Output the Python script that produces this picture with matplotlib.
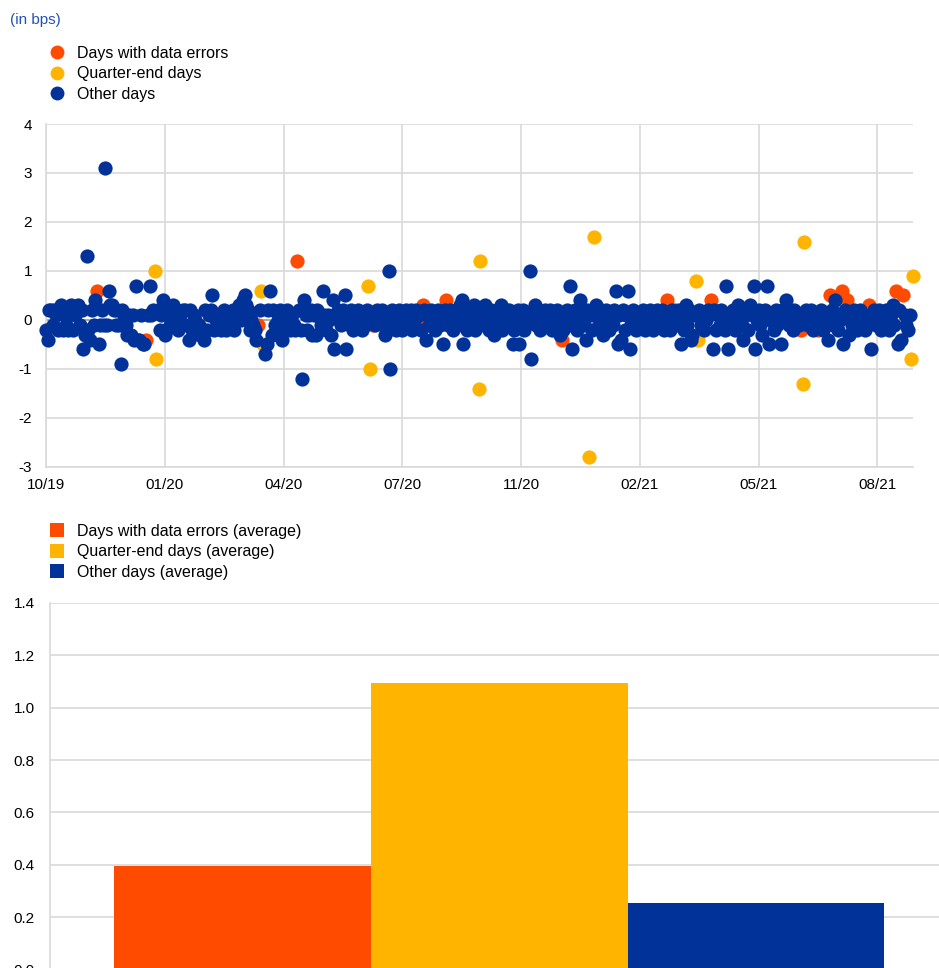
import numpy as np
import matplotlib
matplotlib.use("Agg")
import matplotlib.pyplot as plt
from matplotlib.lines import Line2D

plt.rcParams["font.family"] = ["Liberation Sans", "DejaVu Sans"]

RED = "#FF4B00"
YELLOW = "#FFB400"
BLUE = "#003299"
GRID = "#d9d9d9"

nan = np.nan

# business-day index since 1 Oct 2019, tick label every 70 days
tick_idx = [0, 70, 140, 210, 280, 350, 420, 490]
tick_labels = ["10/19", "01/20", "04/20", "07/20", "11/20", "02/21", "05/21", "08/21"]

error_idx = [30, 59, 125, 148, 193, 196, 219, 222, 236, 304, 366, 371, 392,
             445, 455, 462, 469, 472, 485, 501, 505]
error_vals = [0.6, -0.4, -0.1, 1.2, -0.1, 0.1, -0.1, 0.3, 0.4, -0.4, 0.4, 0.2, 0.4,
              -0.2, -0.2, 0.5, 0.6, 0.4, 0.3, 0.6, 0.5]

qend_idx = [64, 65, 127, 128, 190, 191, 255, 256, 320, 323, 383, 384, 446, 447, 510, 511]
qend_vals = [1.0, -0.8, 0.6, -0.5, 0.7, -1.0, -1.4, 1.2, -2.8, 1.7, 0.8, -0.4,
             -1.3, 1.6, -0.8, 0.9]

# other days, one value per business day (nan = special day)
other_vals = [
    -0.2, -0.4, 0.2, 0.2, -0.1, 0.2, 0.1, -0.2, 0.2, 0.3, -0.2, 0.1, -0.1, -0.2, 0.2, 0.3,
    -0.2, 0.1, 0.2, 0.3, -0.1, 0.2, -0.6, -0.3, 1.3, -0.2, -0.4, 0.2, -0.1, 0.4, nan, -0.5,
    -0.1, 0.2, -0.1, 3.1, -0.1, 0.6, 0.3, 0.3, 0.2, -0.1, 0.2, -0.1, -0.9, 0.2, 0.1, -0.1,
    -0.3, 0.1, -0.3, 0.1, -0.4, 0.7, -0.4, -0.4, 0.1, -0.5, -0.5, nan, 0.1, 0.7, 0.1, 0.2,
    nan, nan, 0.2, -0.2, 0.1, 0.4, -0.3, -0.2, 0.2, -0.1, 0.0, 0.3, -0.1, 0.2, -0.2, 0.1,
    -0.1, 0.2, 0.2, -0.1, -0.4, 0.2, -0.2, 0.1, 0.0, -0.2, -0.1, -0.3, -0.2, -0.4, 0.2, -0.2,
    0.1, 0.2, 0.5, -0.2, 0.0, 0.1, -0.1, -0.2, 0.1, 0.2, -0.2, 0.1, 0.0, -0.1, 0.2, -0.2,
    0.1, 0.2, 0.3, 0.0, 0.4, 0.5, 0.3, 0.2, -0.2, 0.0, -0.1, -0.2, -0.4, nan, 0.2, nan,
    nan, -0.7, -0.5, 0.2, 0.6, -0.3, 0.2, -0.1, -0.2, 0.0, 0.2, -0.4, 0.1, -0.2, 0.2, 0.0,
    -0.2, 0.1, -0.1, -0.2, nan, 0.2, -0.2, -1.2, 0.4, 0.1, -0.2, 0.1, 0.2, -0.3, 0.1, -0.3,
    0.2, 0.1, -0.1, 0.6, 0.1, -0.2, 0.1, 0.0, -0.3, 0.4, -0.6, 0.1, 0.2, 0.0, -0.1, 0.2,
    0.5, -0.6, 0.1, -0.1, 0.2, -0.2, 0.1, -0.1, 0.2, 0.0, -0.2, 0.1, -0.1, 0.2, nan, nan,
    0.1, nan, -0.1, 0.2, nan, 0.1, 0.2, -0.1, -0.3, 0.1, 1.0, -1.0, 0.2, -0.1, -0.2, 0.1,
    0.2, 0.0, -0.2, 0.1, 0.2, -0.1, 0.1, 0.2, -0.2, 0.0, 0.2, nan, 0.1, -0.2, nan, 0.2,
    -0.4, 0.1, -0.1, 0.2, 0.0, -0.2, 0.1, 0.2, -0.1, 0.1, -0.5, 0.2, nan, -0.1, 0.2, 0.0,
    -0.2, 0.1, 0.2, -0.1, 0.3, 0.4, -0.5, 0.1, -0.2, 0.2, -0.1, 0.0, 0.3, -0.2, 0.1, nan,
    nan, 0.2, -0.1, 0.3, 0.1, -0.2, 0.2, 0.0, -0.3, 0.1, 0.2, -0.1, 0.3, -0.2, 0.1, 0.2,
    -0.1, 0.2, 0.0, -0.5, -0.2, 0.1, 0.2, -0.5, -0.1, 0.2, -0.2, 0.1, 0.0, 1.0, -0.8, 0.1,
    0.3, -0.1, 0.2, -0.2, 0.1, 0.0, 0.2, -0.1, 0.1, 0.2, -0.2, 0.0, 0.1, 0.2, -0.1, -0.3,
    nan, -0.2, 0.1, 0.2, -0.1, 0.7, -0.6, 0.0, 0.2, -0.2, 0.1, 0.4, 0.2, -0.1, -0.4, 0.2,
    nan, 0.1, -0.2, nan, 0.3, 0.1, -0.1, 0.2, -0.3, 0.0, 0.2, 0.1, -0.2, 0.1, -0.1, 0.2,
    0.6, -0.5, 0.1, -0.4, 0.2, -0.2, 0.1, 0.6, -0.6, -0.1, 0.2, 0.0, -0.2, 0.1, -0.1, 0.0,
    0.2, -0.2, 0.1, -0.1, 0.2, 0.0, -0.2, 0.1, 0.2, -0.1, 0.1, 0.2, -0.2, 0.0, nan, 0.1,
    -0.2, 0.2, 0.1, nan, -0.1, 0.2, -0.5, 0.0, -0.2, 0.3, -0.1, 0.2, -0.4, -0.3, 0.1, nan,
    nan, 0.2, -0.1, 0.1, -0.2, 0.0, 0.2, 0.1, nan, -0.6, 0.2, -0.2, 0.1, -0.1, 0.2, 0.0,
    -0.2, 0.7, -0.6, 0.1, -0.1, 0.2, -0.2, 0.0, 0.3, 0.2, -0.1, -0.4, 0.1, 0.2, -0.2, 0.3,
    0.1, 0.7, -0.6, 0.0, 0.2, -0.1, -0.3, 0.1, 0.2, 0.7, -0.5, 0.0, 0.1, -0.2, 0.2, -0.1,
    0.1, -0.5, 0.2, 0.0, 0.4, 0.2, -0.1, 0.1, -0.2, 0.2, 0.0, 0.1, -0.1, nan, nan, nan,
    0.2, -0.1, 0.1, 0.2, -0.2, 0.0, 0.1, nan, -0.1, 0.2, -0.2, 0.0, 0.1, -0.4, nan, 0.2,
    -0.1, 0.4, 0.1, -0.2, 0.0, nan, -0.5, 0.2, nan, -0.3, 0.1, -0.1, 0.2, 0.0, -0.2, 0.1,
    0.2, -0.1, 0.1, -0.2, 0.0, nan, -0.6, 0.1, 0.2, -0.1, 0.0, 0.2, -0.2, 0.1, -0.1, 0.2,
    0.0, -0.2, 0.1, 0.3, -0.1, nan, -0.5, 0.2, -0.4, nan, 0.1, -0.1, -0.2, 0.1, nan, nan,
]

bar_labels = ["Days with data errors (average)", "Quarter-end days (average)",
              "Other days (average)"]
bar_vals = [0.394, 1.094, 0.252]
bar_colors = [RED, YELLOW, BLUE]

fig = plt.figure(figsize=(9.39, 9.68), dpi=100)

# ---- top panel: scatter
ax = fig.add_axes([0.049, 0.5176, 0.9233, 0.3543])
ms = 105
kw = dict(s=ms, linewidths=0, clip_on=False, zorder=3)
ax.scatter(error_idx, error_vals, color=RED, **kw)
ax.scatter(qend_idx, qend_vals, color=YELLOW, **kw)
ax.scatter(np.arange(len(other_vals)), other_vals, color=BLUE, **kw)
ax.axhline(0, color="#a6a6a6", lw=1.3, zorder=2)

ax.set_xlim(0, 511)
ax.set_ylim(-3, 4)
ax.set_yticks(range(-3, 5))
ax.set_yticklabels([str(v) for v in range(-3, 5)])
ax.set_xticks(tick_idx)
ax.set_xticklabels(tick_labels)
ax.grid(True, color=GRID, lw=1.2, zorder=0)
ax.set_axisbelow(True)
for side in ["top", "right"]:
    ax.spines[side].set_visible(False)
for side in ["left", "bottom"]:
    ax.spines[side].set_color(GRID)
    ax.spines[side].set_linewidth(1.2)
ax.tick_params(length=0, labelsize=11, colors="#000000")
ax.tick_params(axis="y", pad=10)
ax.tick_params(axis="x", pad=8)

fig.text(0.0107, 0.9795, "(in bps)", color="#2452b4", fontsize=11, va="center")

scatter_handles = [
    Line2D([], [], marker="o", ls="", color=RED, markersize=10, markeredgewidth=0),
    Line2D([], [], marker="o", ls="", color=YELLOW, markersize=10, markeredgewidth=0),
    Line2D([], [], marker="o", ls="", color=BLUE, markersize=10, markeredgewidth=0),
]
fig.legend(scatter_handles, ["Days with data errors", "Quarter-end days", "Other days"],
           loc="upper left", bbox_to_anchor=(0.0526, 0.9525), frameon=False,
           fontsize=11.5, handlelength=1.0, handletextpad=0.75, labelspacing=0.33,
           borderpad=0, borderaxespad=0)

# ---- bottom panel: bars
bx = fig.add_axes([0.0532, -0.0015, 0.957, 0.3786])
bx.bar(range(3), bar_vals, width=1.0, color=bar_colors, zorder=3)
bx.set_xlim(-0.75, 2.75)
bx.set_ylim(0, 1.4)
bx.set_yticks(np.arange(0, 1.41, 0.2))
bx.set_yticklabels([f"{v:.1f}" for v in np.arange(0, 1.41, 0.2)])
bx.set_xticks([])
bx.grid(True, axis="y", color=GRID, lw=1.2, zorder=0)
bx.set_axisbelow(True)
for side in ["top", "right", "bottom"]:
    bx.spines[side].set_visible(False)
bx.spines["left"].set_color(GRID)
bx.spines["left"].set_linewidth(1.2)
bx.tick_params(length=0, labelsize=11, pad=11)

bar_handles = [Line2D([], [], marker="s", ls="", color=c, markersize=9.6, markeredgewidth=0)
               for c in bar_colors]
fig.legend(bar_handles, bar_labels, loc="upper left", bbox_to_anchor=(0.0526, 0.4587),
           frameon=False, fontsize=11.5, handlelength=1.0, handletextpad=0.75,
           labelspacing=0.33, borderpad=0, borderaxespad=0)

fig.savefig("out.png", dpi=100)
